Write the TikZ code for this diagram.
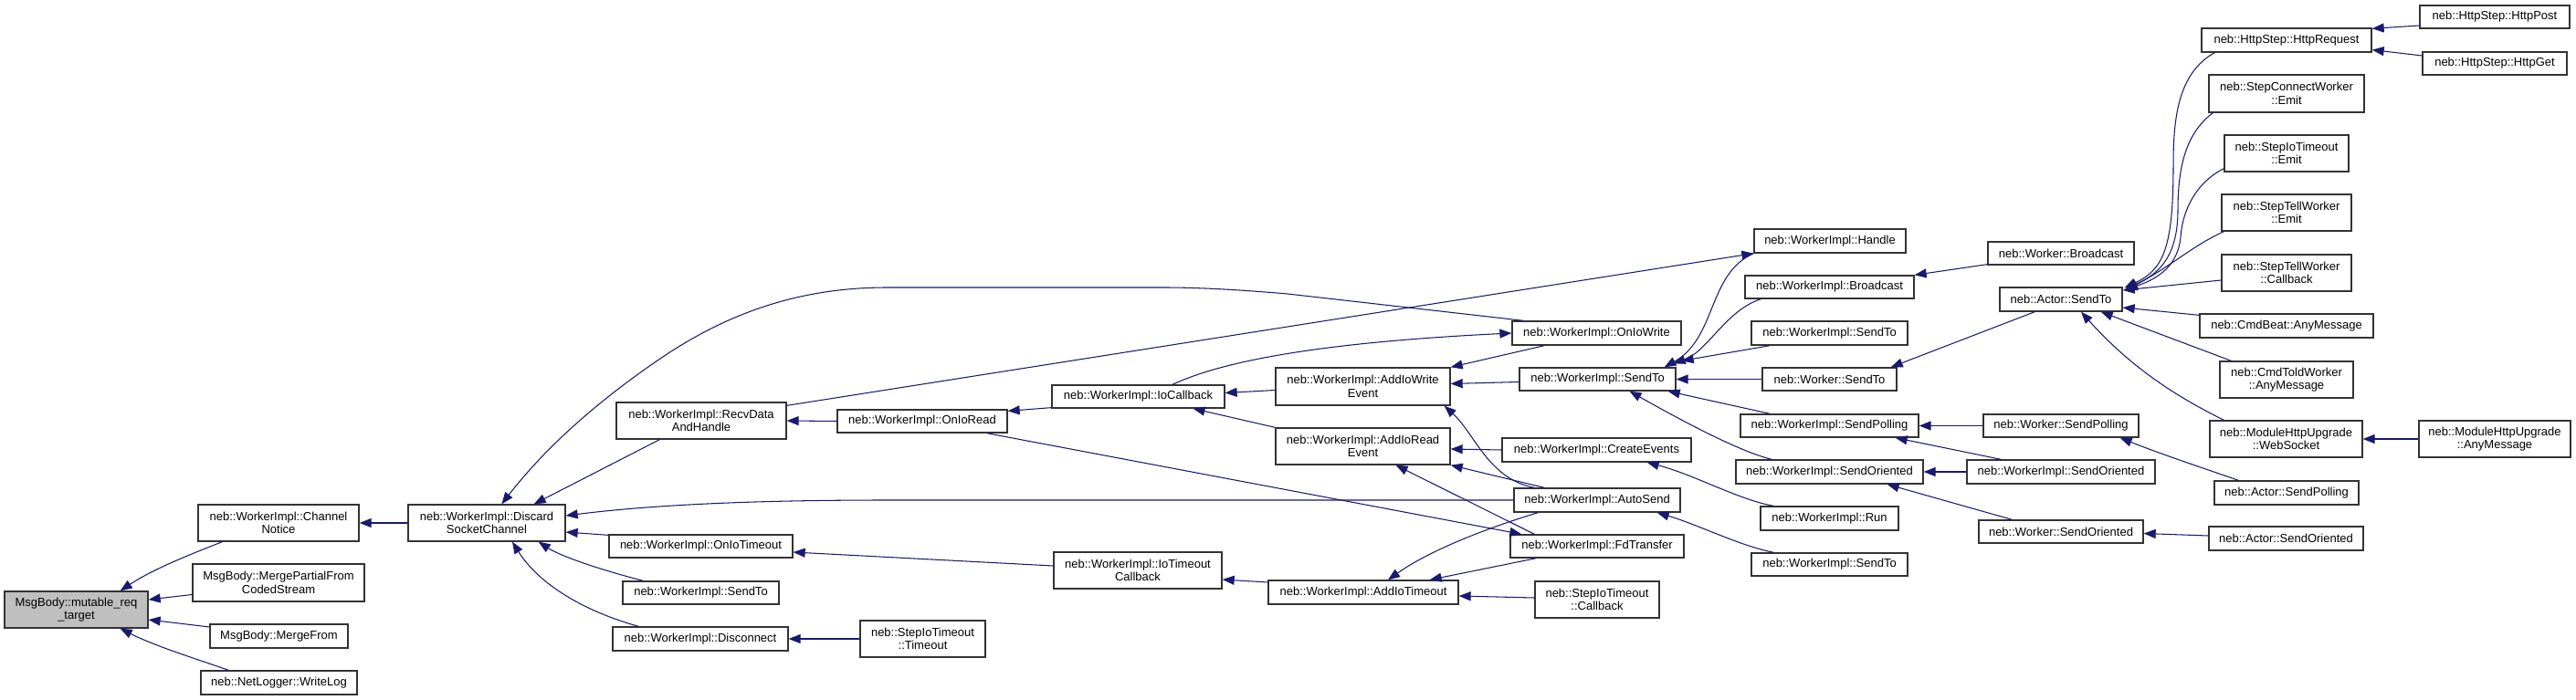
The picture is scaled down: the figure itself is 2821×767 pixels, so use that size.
\documentclass[tikz,border=0pt]{standalone}
\usepackage{fontspec}
\setmainfont{Liberation Sans}
\usetikzlibrary{arrows.meta,calc}
\definecolor{edgeblue}{HTML}{191970}
\definecolor{rootgray}{HTML}{BFBFBF}
\tikzset{
  box/.style={draw=black!80, line width=1.3pt, fill=white, inner sep=0pt, align=center, font=\fontsize{13}{14.5}\selectfont},
  rootbox/.style={fill=rootgray},
  edge/.style={draw=edgeblue, line width=1.05pt, -{Triangle[length=13pt,width=10pt]}},
}
\newcommand\mkbox[7][]{\node[box,#1,minimum width={(#5)-(#3)},minimum height={(#6)-(#4)}] (#2) at ({((#3)+(#5))/2},{((#4)+(#6))/2}) {#7};}
\begin{document}
\begin{tikzpicture}[x=1pt,y=-1pt]
\useasboundingbox (0,0) rectangle (2821,767);
\fill[white] (0,0) rectangle (2821,767);
% nodes
\mkbox[rootbox]{MsgBody}{5}{648}{162}{688}{MsgBody::mutable\_req\\\_target}
\mkbox{ChannelNotice}{217}{553}{393}{593}{neb::WorkerImpl::Channel\\Notice}
\mkbox{MergePartial}{211}{618}{399}{659}{MsgBody::MergePartialFrom\\CodedStream}
\mkbox{MergeFrom}{230}{684}{381}{710}{MsgBody::MergeFrom}
\mkbox{WriteLog}{220}{735}{391}{761}{neb::NetLogger::WriteLog}
\mkbox{Discard}{447}{553}{619}{593}{neb::WorkerImpl::Discard\\SocketChannel}
\mkbox{RecvData}{675}{441}{861}{481}{neb::WorkerImpl::RecvData\\AndHandle}
\mkbox{OnIoTimeout}{667}{586}{868}{611}{neb::WorkerImpl::OnIoTimeout}
\mkbox{SendToA}{682}{637}{853}{662}{neb::WorkerImpl::SendTo}
\mkbox{Disconnect}{671}{687}{863}{713}{neb::WorkerImpl::Disconnect}
\mkbox{OnIoRead}{917}{449}{1103}{474}{neb::WorkerImpl::OnIoRead}
\mkbox{IoCallback}{1152}{422}{1341}{447}{neb::WorkerImpl::IoCallback}
\mkbox{IoTimeoutCb}{1154}{605}{1338}{645}{neb::WorkerImpl::IoTimeout\\Callback}
\mkbox{StepTimeout}{942}{680}{1079}{720}{neb::StepIoTimeout\\::Timeout}
\mkbox{AddIoWrite}{1397}{403}{1588}{444}{neb::WorkerImpl::AddIoWrite\\Event}
\mkbox{AddIoRead}{1397}{469}{1588}{509}{neb::WorkerImpl::AddIoRead\\Event}
\mkbox{AddIoTimeout}{1389}{636}{1597}{662}{neb::WorkerImpl::AddIoTimeout}
\mkbox{OnIoWrite}{1656}{352}{1841}{378}{neb::WorkerImpl::OnIoWrite}
\mkbox{SendToB}{1664}{403}{1835}{428}{neb::WorkerImpl::SendTo}
\mkbox{CreateEvents}{1645}{480}{1852}{506}{neb::WorkerImpl::CreateEvents}
\mkbox{AutoSend}{1658}{535}{1840}{561}{neb::WorkerImpl::AutoSend}
\mkbox{FdTransfer}{1654}{586}{1844}{611}{neb::WorkerImpl::FdTransfer}
\mkbox{StepCb}{1681}{637}{1817}{677}{neb::StepIoTimeout\\::Callback}
\mkbox{Handle}{1921}{251}{2087}{277}{neb::WorkerImpl::Handle}
\mkbox{Broadcast}{1911}{302}{2096}{327}{neb::WorkerImpl::Broadcast}
\mkbox{SendToC}{1918}{352}{2089}{378}{neb::WorkerImpl::SendTo}
\mkbox{WorkerSendTo}{1930}{403}{2077}{428}{neb::Worker::SendTo}
\mkbox{SendPolling}{1906}{454}{2101}{479}{neb::WorkerImpl::SendPolling}
\mkbox{SendOriented1}{1901}{504}{2106}{530}{neb::WorkerImpl::SendOriented}
\mkbox{Run}{1928}{555}{2079}{581}{neb::WorkerImpl::Run}
\mkbox{SendToD}{1918}{606}{2089}{631}{neb::WorkerImpl::SendTo}
\mkbox{WorkerBroadcast}{2177}{265}{2337}{290}{neb::Worker::Broadcast}
\mkbox{ActorSendTo}{2190}{315}{2324}{341}{neb::Actor::SendTo}
\mkbox{WorkerSendPolling}{2172}{454}{2342}{479}{neb::Worker::SendPolling}
\mkbox{SendOriented2}{2154}{504}{2360}{530}{neb::WorkerImpl::SendOriented}
\mkbox{WorkerSendOriented}{2167}{570}{2347}{595}{neb::Worker::SendOriented}
\mkbox{HttpRequest}{2411}{31}{2597}{57}{neb::HttpStep::HttpRequest}
\mkbox{HttpPost}{2650}{6}{2814}{31}{neb::HttpStep::HttpPost}
\mkbox{HttpGet}{2653}{57}{2811}{82}{neb::HttpStep::HttpGet}
\mkbox{StepConnect}{2419}{82}{2589}{123}{neb::StepConnectWorker\\::Emit}
\mkbox{StepIoEmit}{2436}{148}{2572}{188}{neb::StepIoTimeout\\::Emit}
\mkbox{StepTellEmit}{2433}{213}{2575}{253}{neb::StepTellWorker\\::Emit}
\mkbox{StepTellCb}{2433}{279}{2575}{319}{neb::StepTellWorker\\::Callback}
\mkbox{CmdBeat}{2409}{344}{2599}{370}{neb::CmdBeat::AnyMessage}
\mkbox{CmdTold}{2431}{396}{2577}{436}{neb::CmdToldWorker\\::AnyMessage}
\mkbox{WebSocket}{2420}{461}{2587}{501}{neb::ModuleHttpUpgrade\\::WebSocket}
\mkbox{MHUAny}{2649}{461}{2815}{501}{neb::ModuleHttpUpgrade\\::AnyMessage}
\mkbox{ActorSendPolling}{2425}{527}{2583}{553}{neb::Actor::SendPolling}
\mkbox{ActorSendOriented}{2419}{577}{2588}{603}{neb::Actor::SendOriented}
% edges
\draw[edge] ($(ChannelNotice.south west)+(27,0)$) .. controls (215,605) and (170,622) .. ($(MsgBody.north east)+(-31,0)$);
\draw[edge] ($(MergePartial.west)+(0,13)$) -- ($(MsgBody.east)+(0,-11)$);
\draw[edge] ($(MergeFrom.west)+(0,-10)$) -- ($(MsgBody.east)+(0,11)$);
\draw[edge] ($(WriteLog.north west)+(31,0)$) .. controls (215,722) and (170,708) .. ($(MsgBody.south east)+(-31,0)$);
\draw[edge] (Discard.west) -- (ChannelNotice.east);
\draw[edge] ($(RecvData.south west)+(48,0)$) -- ($(Discard.north east)+(-35,0)$);
\draw[edge] ($(OnIoWrite.north west)+(13,0)$) -- (1410,322) .. controls (1340,316) and (1300,315) .. (1275,315) -- (972,315) .. controls (880,315) and (800,340) .. (720,395) .. controls (640,450) and (590,500) .. ($(Discard.north west)+(103,0)$);
\draw[edge] ($(RecvData.north east)+(0,4)$) -- (Handle.south west);
\draw[edge] ($(IoCallback.north)+(37.5,0)$) .. controls (1340,395) and (1450,375) .. (OnIoWrite.west);
\draw[edge] ($(OnIoWrite.south west)+(36,0)$) -- (AddIoWrite.north east);
\draw[edge] ($(AddIoWrite.west)+(0,4)$) -- ($(IoCallback.east)+(0,-4)$);
\draw[edge] (AddIoRead.north west) -- ($(IoCallback.south)+(60,0)$);
\draw[edge] ($(IoCallback.south west)+(0,-1)$) -- ($(OnIoRead.north east)+(0,2)$);
\draw[edge] (OnIoRead.west) -- (RecvData.east);
\draw[edge] ($(OnIoRead.south east)+(-23,0)$) -- ($(FdTransfer.north west)+(13,0)$);
\draw[edge] (AutoSend.west) -- (972,548) .. controls (800,548) and (700,555) .. ($(Discard.east)+(0,-8)$);
\draw[edge] ($(OnIoTimeout.north west)+(0,1)$) -- ($(Discard.east)+(0,10)$);
\draw[edge] ($(SendToA.north west)+(23,0)$) .. controls (660,625) and (615,610) .. ($(Discard.south east)+(-30,0)$);
\draw[edge] ($(Disconnect.north west)+(29,0)$) .. controls (640,670) and (590,640) .. ($(Discard.south)+(28,0)$);
\draw[edge] ($(IoTimeoutCb.west)+(0,-5)$) -- ($(OnIoTimeout.east)+(0,6.5)$);
\draw[edge] (StepTimeout.west) -- (Disconnect.east);
\draw[edge] ($(AddIoTimeout.west)+(0,-11)$) -- ($(IoTimeoutCb.east)+(0,10)$);
\draw[edge] ($(SendToB.west)+(0,3)$) -- ($(AddIoWrite.east)+(0,-3)$);
\draw[edge] (CreateEvents.west) -- ($(AddIoRead.east)+(0,3)$);
\draw[edge] ($(AutoSend.north west)+(34,0)$) -- (AddIoRead.south east);
\draw[edge] ($(AutoSend.north west)+(23,0)$) .. controls (1630,525) and (1615,475) .. ($(AddIoWrite.south east)+(-7,0)$);
\draw[edge] ($(FdTransfer.north west)+(27,0)$) -- ($(AddIoRead.south)+(36,0)$);
\draw[edge] ($(AutoSend.south west)+(27,0)$) .. controls (1640,575) and (1570,600) .. ($(AddIoTimeout.north)+(27,0)$);
\draw[edge] ($(FdTransfer.south west)+(29,0)$) -- ($(AddIoTimeout.north east)+(-32,0)$);
\draw[edge] ($(StepCb.west)+(0,-2)$) -- ($(AddIoTimeout.east)+(0,4)$);
\draw[edge] (Handle.south west) .. controls (1870,300) and (1880,370) .. ($(SendToB.north east)+(-13,0)$);
\draw[edge] ($(Broadcast.south west)+(18,0)$) .. controls (1890,340) and (1870,385) .. ($(SendToB.north east)+(-3,-4)$);
\draw[edge] ($(SendToC.south west)+(21,0)$) -- ($(SendToB.north east)+(6,-7)$);
\draw[edge] (WorkerSendTo.west) -- (SendToB.east);
\draw[edge] ($(SendPolling.north west)+(33,0)$) -- ($(SendToB.south east)+(-9,0)$);
\draw[edge] ($(SendOriented1.north west)+(40,0)$) .. controls (1905,495) and (1840,460) .. ($(SendToB.south)+(35,0)$);
\draw[edge] ($(WorkerBroadcast.south west)+(0,-1)$) -- (Broadcast.north east);
\draw[edge] ($(ActorSendTo.south west)+(39,0)$) -- ($(WorkerSendTo.north east)+(-7,0)$);
\draw[edge] ($(Run.north west)+(15,0)$) .. controls (1905,548) and (1855,520) .. ($(CreateEvents.south east)+(-49,0)$);
\draw[edge] ($(SendToD.north west)+(25,0)$) .. controls (1905,598) and (1860,575) .. ($(AutoSend.south east)+(-26,0)$);
\draw[edge] (WorkerSendPolling.west) -- (SendPolling.east);
\draw[edge] ($(ActorSendPolling.north west)+(27,0)$) .. controls (2410,512) and (2365,497) .. ($(WorkerSendPolling.south east)+(-21,0)$);
\draw[edge] (SendOriented2.west) -- (SendOriented1.east);
\draw[edge] ($(SendOriented2.north west)+(38,0)$) -- ($(SendPolling.south east)+(-26,0)$);
\draw[edge] ($(WorkerSendOriented.north west)+(37,0)$) -- ($(SendOriented1.south east)+(-40,0)$);
\draw[edge] ($(ActorSendOriented.west)+(0,-3)$) -- ($(WorkerSendOriented.east)+(0,2)$);
\draw[edge] ($(HttpPost.west)+(0,9.5)$) -- ($(HttpRequest.north east)+(0,1)$);
\draw[edge] ($(HttpGet.west)+(0,-8.5)$) -- ($(HttpRequest.south east)+(0,-3)$);
\draw[edge] (MHUAny.west) -- (WebSocket.east);
\draw[edge] ($(HttpRequest.south west)+(15,0)$) .. controls (2385,80) and (2380,130) .. (2380,180) .. controls (2380,270) and (2370,295) .. ($(ActorSendTo.north east)+(2,1)$);
\draw[edge] ($(StepConnect.south west)+(5,0)$) .. controls (2395,145) and (2385,180) .. (2385,230) .. controls (2385,280) and (2365,300) .. ($(ActorSendTo.north east)+(3,2)$);
\draw[edge] ($(StepIoEmit.south west)+(0,-4)$) .. controls (2405,200) and (2390,230) .. (2388,260) .. controls (2385,290) and (2365,305) .. ($(ActorSendTo.north east)+(3,3)$);
\draw[edge] ($(StepTellEmit.south west)+(3,0)$) .. controls (2400,270) and (2380,290) .. ($(ActorSendTo.north east)+(3,4)$);
\draw[edge] ($(StepTellCb.west)+(0,8)$) -- ($(ActorSendTo.east)+(0,-10)$);
\draw[edge] ($(CmdBeat.north west)+(0,2)$) -- ($(ActorSendTo.east)+(0,9)$);
\draw[edge] ($(CmdTold.north west)+(13,0)$) -- ($(ActorSendTo.south east)+(-24,0)$);
\draw[edge] ($(WebSocket.north west)+(16,0)$) .. controls (2395,440) and (2340,410) .. ($(ActorSendTo.south)+(22,0)$);
\end{tikzpicture}
\end{document}
